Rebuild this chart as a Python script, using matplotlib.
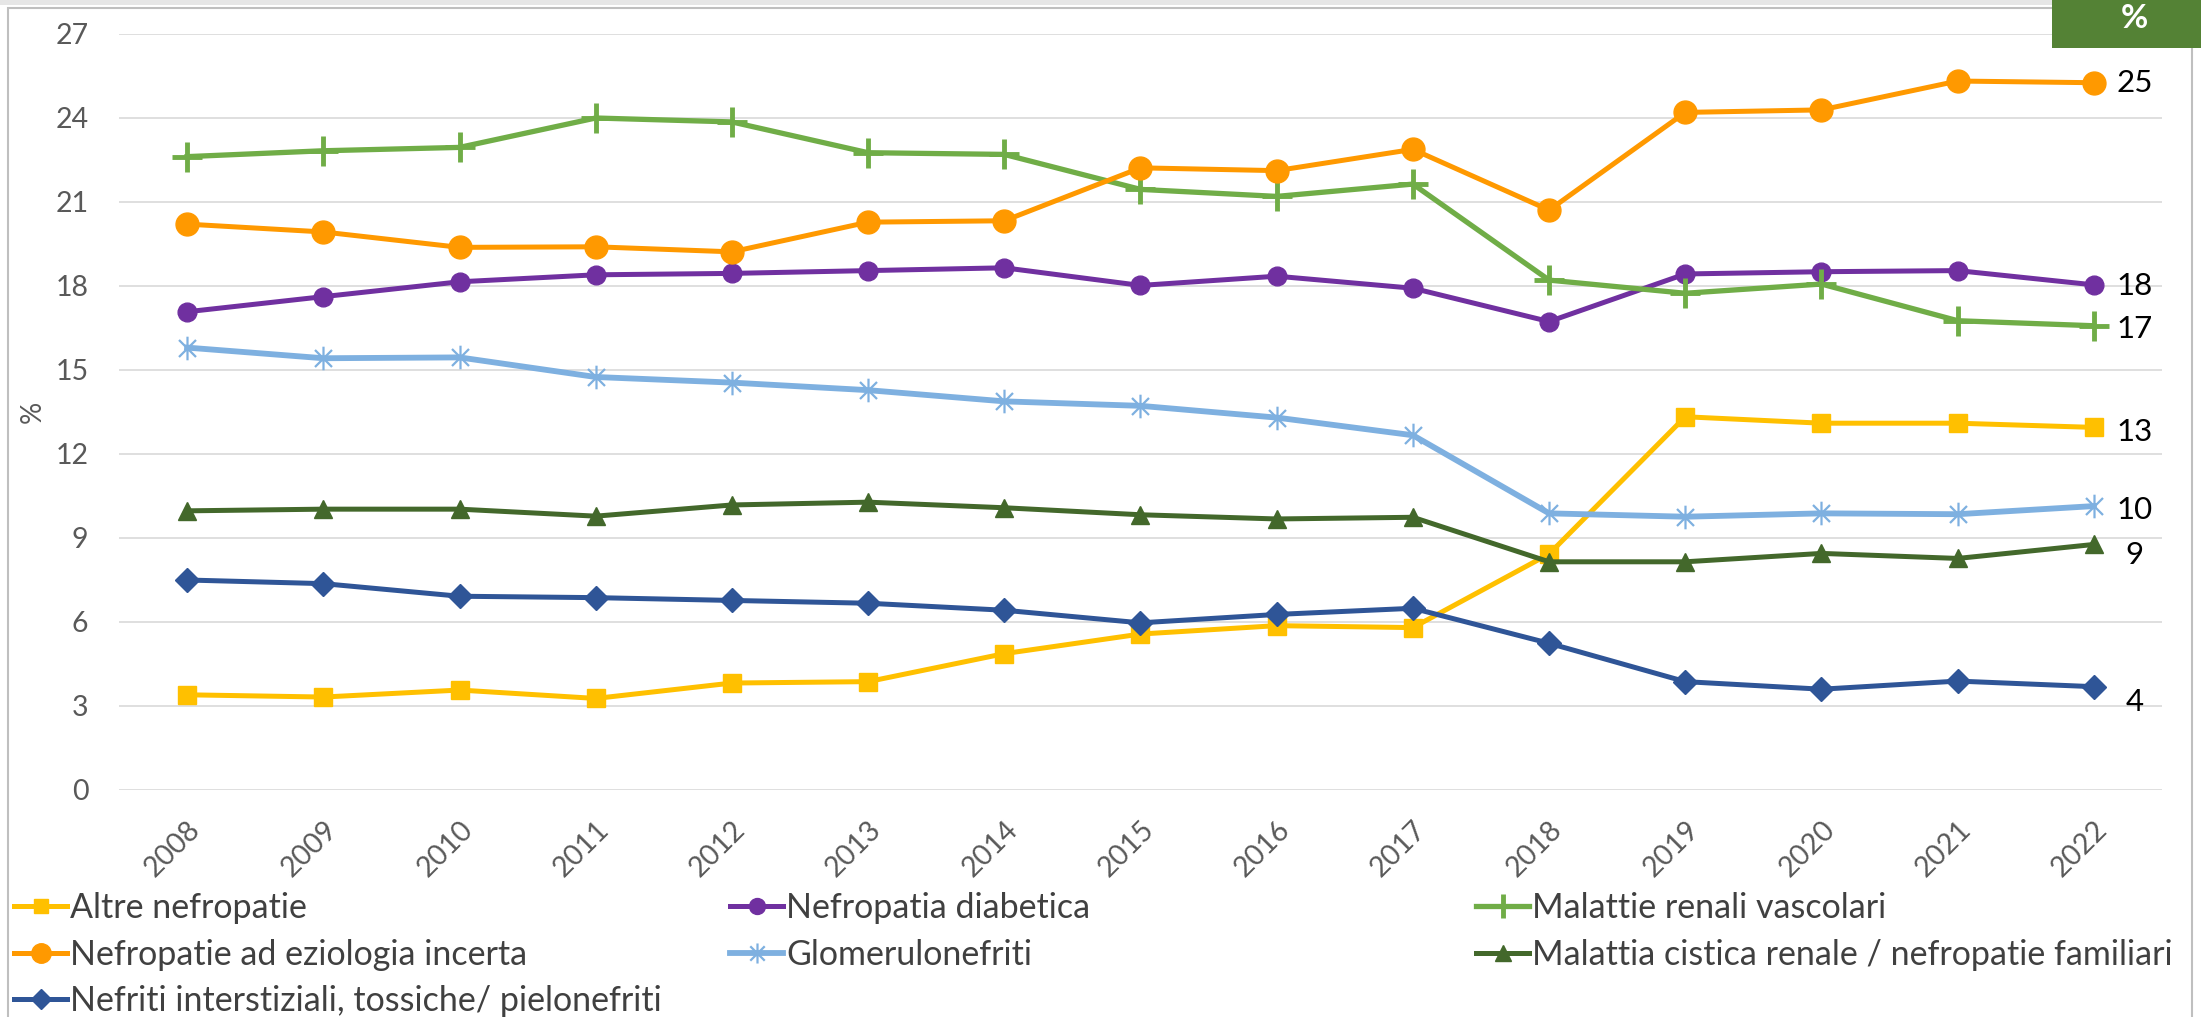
import matplotlib
matplotlib.use("Agg")
import matplotlib.pyplot as plt
from matplotlib.path import Path
from matplotlib.patches import Rectangle

plt.rcParams['font.family'] = ['Lato', 'DejaVu Sans']

years = ['2008', '2009', '2010', '2011', '2012', '2013', '2014', '2015',
         '2016', '2017', '2018', '2019', '2020', '2021', '2022']

altre = [3.40, 3.32, 3.57, 3.27, 3.82, 3.87, 4.87, 5.57, 5.87, 5.80, 8.43, 13.33, 13.10, 13.10, 12.95]
diabetica = [17.08, 17.62, 18.15, 18.40, 18.45, 18.55, 18.65, 18.02, 18.35, 17.92, 16.73, 18.43, 18.51, 18.55, 18.04]
vascolari = [22.62, 22.83, 22.95, 24.00, 23.86, 22.76, 22.70, 21.45, 21.20, 21.64, 18.21, 17.74, 18.07, 16.76, 16.58]
incerta = [20.21, 19.93, 19.38, 19.40, 19.22, 20.28, 20.33, 22.22, 22.12, 22.88, 20.71, 24.20, 24.29, 25.32, 25.26]
glomerulo = [15.80, 15.42, 15.45, 14.75, 14.55, 14.28, 13.88, 13.72, 13.30, 12.67, 9.88, 9.76, 9.88, 9.85, 10.14]
cistica = [9.97, 10.03, 10.03, 9.78, 10.18, 10.28, 10.08, 9.83, 9.68, 9.74, 8.15, 8.15, 8.45, 8.27, 8.77]
interstiziali = [7.50, 7.37, 6.92, 6.87, 6.77, 6.67, 6.42, 5.97, 6.27, 6.49, 5.24, 3.87, 3.60, 3.89, 3.69]

names = ['Altre nefropatie', 'Nefropatia diabetica', 'Malattie renali vascolari',
         'Nefropatie ad eziologia incerta', 'Glomerulonefriti',
         'Malattia cistica renale / nefropatie familiari',
         'Nefriti interstiziali, tossiche/ pielonefriti']
yticks = [0, 3, 6, 9, 12, 15, 18, 21, 24, 27]

# asterisk marker (vertical bar + X) like Excel's star
star = Path([(0, -1), (0, 1), (-0.72, -0.72), (0.72, 0.72), (-0.72, 0.72), (0.72, -0.72)],
            [Path.MOVETO, Path.LINETO, Path.MOVETO, Path.LINETO, Path.MOVETO, Path.LINETO])

styles = [
    dict(color='#FFC000', marker='s', ms=12.5, lw=3.6),
    dict(color='#7030A0', marker='o', ms=13.5, lw=3.6),
    dict(color='#70AD47', marker='+', ms=21, mew=3.5, lw=3.8),
    dict(color='#FF9900', marker='o', ms=16.5, lw=3.6),
    dict(color='#7EB0E0', marker=star, ms=17, mew=1.6, lw=4.2),
    dict(color='#43682B', marker='^', ms=13.5, lw=3.6),
    dict(color='#2F5597', marker='D', ms=12, lw=3.6),
]
series = [altre, diabetica, vascolari, incerta, glomerulo, cistica, interstiziali]
# vertical label offsets (pixels, positive = down)
lab_dy = [5, 1, 3, 0, 4, 11, 15]

W, H = 2201, 1017
fig = plt.figure(figsize=(W / 100, H / 100), dpi=100)
ax = fig.add_axes([119 / W, 1 - 790 / H, (2162 - 119) / W, (790 - 34) / H])

x = list(range(len(years)))
handles = []
for vals, st, name in zip(series, styles, names):
    ln, = ax.plot(x, vals, label=name, solid_joinstyle='round', **st)
    handles.append(ln)

for vals, st, dy in zip(series, styles, lab_dy):
    ax.annotate(f"{round(vals[-1])}", xy=(x[-1], vals[-1]),
                xytext=(41 * 0.72, -dy * 0.72), textcoords='offset points',
                ha='center', va='center', fontsize=22.5, color='black')

ax.set_xlim(-0.5, len(years) - 0.5)
ax.set_ylim(0, 27)
ax.set_yticks(yticks)
ax.set_xticks(x)
ax.set_xticklabels(years, rotation=45, ha='right', va='top', rotation_mode='anchor')
ax.tick_params(axis='both', length=0, labelsize=20.5, labelcolor='#595959')
ax.tick_params(axis='y', pad=22)
ax.tick_params(axis='x', pad=19)
ax.grid(axis='y', color='#D9D9D9', lw=1.2)
ax.set_axisbelow(True)
for s in ax.spines.values():
    s.set_visible(False)

fig.text(33 / W, 1 - 412 / H, '%', rotation=90, ha='center', va='center',
         fontsize=20, color='#595959')

# legend: three columns laid out like Excel
cols = [[0, 3, 6], [1, 4], [2, 5]]
col_x = [14, 730, 1476]
for idxs, cx in zip(cols, col_x):
    leg = fig.legend([handles[i] for i in idxs], [names[i] for i in idxs],
                     loc='upper left', bbox_to_anchor=(cx / W, 1 - 892 / H),
                     frameon=False, fontsize=24.5, borderpad=0, borderaxespad=0,
                     handlelength=1.56, handletextpad=0.1, labelspacing=0.43,
                     markerscale=0.85)
    for t in leg.get_texts():
        t.set_color('#404040')

# outer frame
fig.patches.append(Rectangle((8 / W, -0.02), (2192 - 8) / W, 1.02 - 8 / H,
                             transform=fig.transFigure, fill=False,
                             edgecolor='#BFBFBF', lw=1.5))
# faint top shadow
fig.patches.append(Rectangle((0, 1 - 5 / H), 1, 5 / H, transform=fig.transFigure,
                             facecolor='#E6E6E6', edgecolor='none'))
# green "%" tab
fig.patches.append(Rectangle((2052 / W, 1 - 48 / H), (W - 2052) / W, 48 / H,
                             transform=fig.transFigure, facecolor='#548235',
                             edgecolor='none', zorder=5))
fig.text(2134 / W, 1 - 19 / H, '%', ha='center', va='center', fontsize=24,
         fontweight='bold', color='white', zorder=6)

fig.savefig('out.png', dpi=100)
